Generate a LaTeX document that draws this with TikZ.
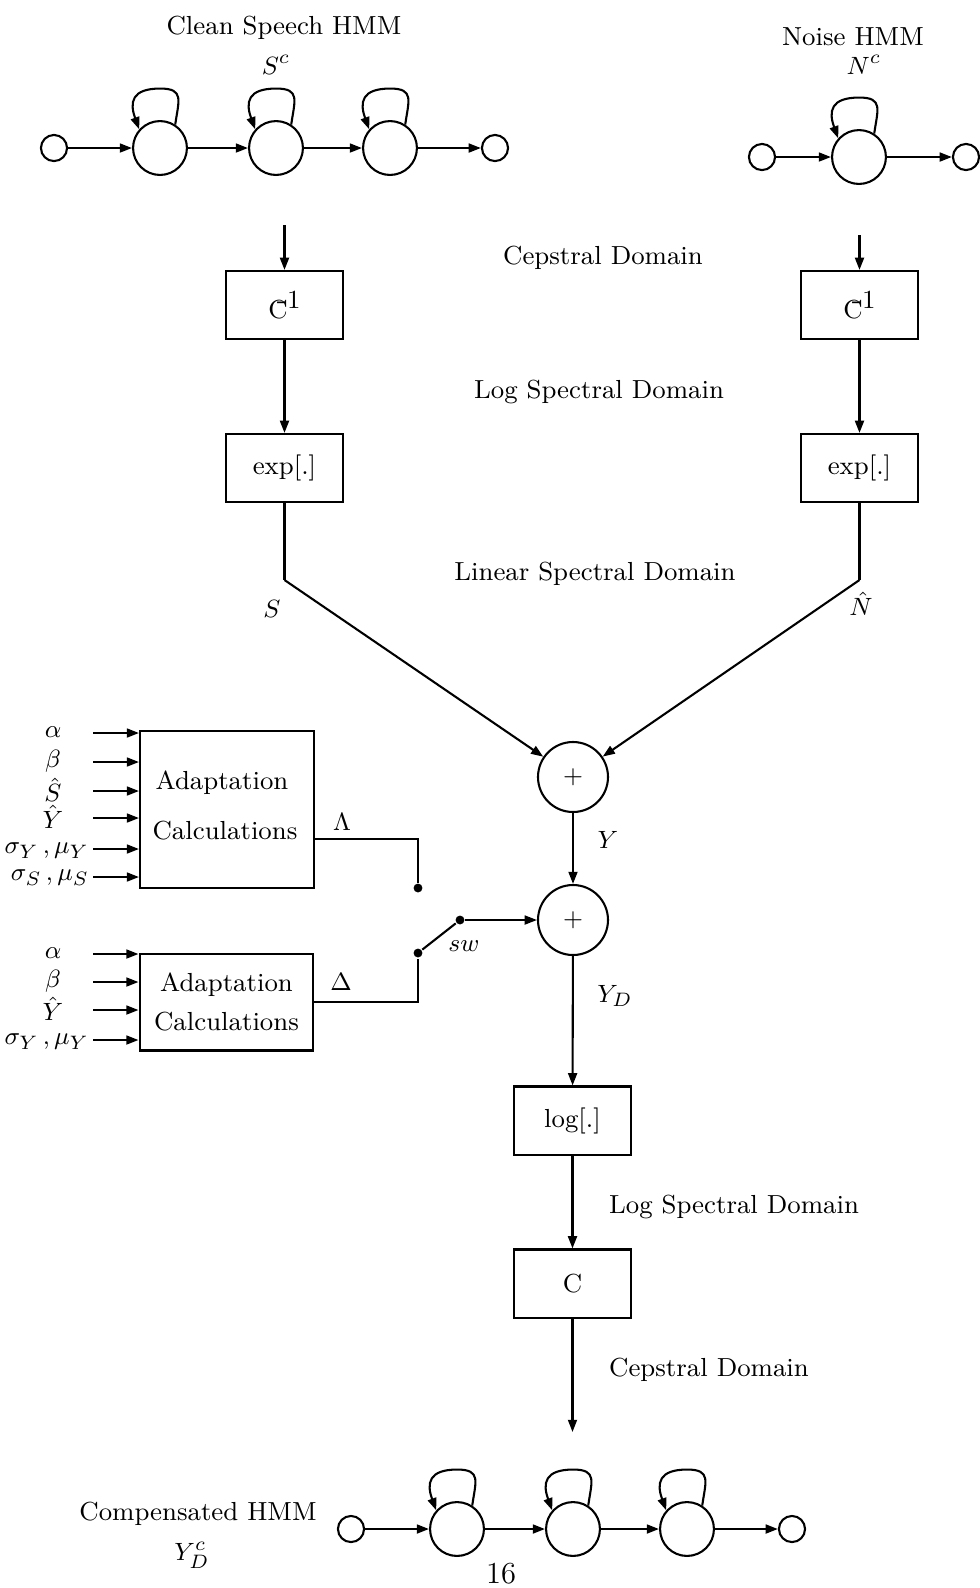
\documentclass[tikz,border=0pt]{standalone}
\usetikzlibrary{arrows.meta}
\newcommand\stateloop[1]{\draw[arr] (#1.57) to[out=82,in=0,looseness=1.6] ++(-15,36) to[out=180,in=110,looseness=1.6] (#1.138);}
\begin{document}
\begin{tikzpicture}[x=0.36pt,y=0.36pt,
  line width=0.75pt,
  every node/.style={font=\fontsize{9.4}{11}\selectfont},
  arr/.style={-{Triangle[length=4.4pt,width=3.2pt]}},
  bigstate/.style={circle,draw,minimum size=19.4pt,inner sep=0pt},
  smallstate/.style={circle,draw,minimum size=9.4pt,inner sep=0pt},
  sumnode/.style={circle,draw,minimum size=25.2pt,inner sep=0pt},
  blockbox/.style={draw,minimum width=42.1pt,minimum height=24.5pt,inner sep=0pt},
  adapt/.style={draw,minimum width=62.6pt,align=center,inner sep=0pt},
  dot/.style={circle,fill,minimum size=3.2pt,inner sep=0pt},
  lbl/.style={inner sep=0pt}
]
\useasboundingbox (0,0) rectangle (980,-1588);

% ---------- Clean speech HMM ----------
\node[lbl] (tcs) at (284,-28) {Clean Speech HMM};
\node[lbl] (tsc) at (276,-65) {$S^c$};
\node[smallstate] (a0) at (54,-148) {};
\node[bigstate] (a1) at (160,-148) {};
\node[bigstate] (a2) at (276,-148) {};
\node[bigstate] (a3) at (390,-148) {};
\node[smallstate] (a4) at (495,-148) {};
\draw[arr] (a0) -- (a1);
\draw[arr] (a1) -- (a2);
\draw[arr] (a2) -- (a3);
\draw[arr] (a3) -- (a4);
\stateloop{a1}\stateloop{a2}\stateloop{a3}

% ---------- Noise HMM ----------
\node[lbl] (tnh) at (853,-37) {Noise HMM};
\node[lbl] (tnc) at (864,-65) {$N^c$};
\node[smallstate] (n0) at (762,-157) {};
\node[bigstate] (n1) at (859,-157) {};
\node[smallstate] (n2) at (966,-157) {};
\draw[arr] (n0) -- (n1);
\draw[arr] (n1) -- (n2);
\stateloop{n1}

% ---------- domain labels ----------
\node[lbl] (dc1) at (603,-258) {Cepstral Domain};
\node[lbl] (dl1) at (599,-392) {Log Spectral Domain};
\node[lbl] (dls) at (595,-574) {Linear Spectral Domain};
\node[lbl] (dl2) at (734,-1207) {Log Spectral Domain};
\node[lbl] (dc2) at (709,-1370) {Cepstral Domain};

% ---------- transform blocks ----------
\newcommand\cinvtext{C\kern-0.42em\raisebox{0.95ex}{-\kern0.05em1}}
\node[blockbox] (ci1) at (284.5,-305) {\cinvtext};
\node[blockbox] (ex1) at (284.5,-468) {exp[.]};
\node[blockbox] (ci2) at (859.5,-305) {\cinvtext};
\node[blockbox] (ex2) at (859.5,-468) {exp[.]};
\coordinate (tl) at (284.5,-225);
\coordinate (tr) at (859.5,-235);
\draw[arr] (tl) -- (ci1);
\draw[arr] (tr) -- (ci2);
\draw[arr] (ci1) -- (ex1);
\draw[arr] (ci2) -- (ex2);

% ---------- summation ----------
\node[sumnode] (p1) at (573,-777) {$+$};
\node[sumnode] (p2) at (573,-920) {$+$};
\coordinate (cS) at (284.5,-580);
\coordinate (cN) at (859.5,-580);
\draw (ex1) -- (cS);
\draw[arr] (cS) -- (p1);
\draw (ex2) -- (cN);
\draw[arr] (cN) -- (p1);
\node[lbl] (lS) at (272,-609) {$S$};
\node[lbl] (lN) at (861,-604) {$\hat N$};
\draw[arr] (p1) -- (p2);
\node[lbl] (lY) at (608,-840) {$Y$};
\node[lbl] (lYD) at (615,-996) {$Y_D$};

% ---------- output chain ----------
\node[blockbox] (lg) at (572.5,-1120.5) {log[.]};
\node[blockbox] (cc) at (572.5,-1283.5) {C};
\coordinate (outc) at (572.5,-1432);
\draw[arr] (p2) -- (lg);
\draw[arr] (lg) -- (cc);
\draw[arr] (cc) -- (outc);

% ---------- compensated HMM ----------
\node[lbl] (tco) at (198,-1514) {Compensated HMM};
\node[lbl] (tyd) at (192,-1555) {$Y_D^c$};
\node[smallstate] (b0) at (351,-1529) {};
\node[bigstate] (b1) at (457,-1529) {};
\node[bigstate] (b2) at (573,-1529) {};
\node[bigstate] (b3) at (687,-1529) {};
\node[smallstate] (b4) at (792,-1529) {};
\draw[arr] (b0) -- (b1);
\draw[arr] (b1) -- (b2);
\draw[arr] (b2) -- (b3);
\draw[arr] (b3) -- (b4);
\stateloop{b1}\stateloop{b2}\stateloop{b3}
\node[lbl,font=\fontsize{11}{13}\selectfont] (pg) at (501,-1574) {16};

% ---------- adaptation block 1 ----------
\node[adapt,minimum height=56.5pt] (ad1) at (227,-809.5) {};
\node[lbl] (ad1a) at (222,-783) {Adaptation};
\node[lbl] (ad1b) at (225,-831) {Calculations};
\foreach \yy/\tt/\nm in {733/{$\alpha$}/1,762/{$\beta$}/2,791/{$\hat S$}/3,818/{$\hat Y$}/4}{
  \coordinate (ia\nm) at (93,-\yy);
  \node[lbl] (la\nm) at (53,-\yy+1) {\tt};
  \draw[arr] (ia\nm) -- (ia\nm -| ad1.west);
}
\coordinate (ia5) at (93,-849);
\node[lbl,anchor=east] (la5) at (90,-851) {$\sigma_Y\,,\mu_Y$};
\draw[arr] (ia5) -- (ia5 -| ad1.west);
\coordinate (ia6) at (93,-877);
\node[lbl,anchor=east] (la6) at (90,-878) {$\sigma_S\,,\mu_S$};
\draw[arr] (ia6) -- (ia6 -| ad1.west);

% ---------- adaptation block 2 ----------
\node[adapt,minimum height=34.9pt,font=\fontsize{9.4}{14}\selectfont] (ad2) at (226.5,-1002) {Adaptation\\Calculations};
\foreach \yy/\tt/\nm in {954/{$\alpha$}/1,982/{$\beta$}/2,1010/{$\hat Y$}/3}{
  \coordinate (ib\nm) at (93,-\yy);
  \node[lbl] (lb\nm) at (53,-\yy+1) {\tt};
  \draw[arr] (ib\nm) -- (ib\nm -| ad2.west);
}
\coordinate (ib4) at (93,-1040);
\node[lbl,anchor=east] (lb4) at (90,-1042) {$\sigma_Y\,,\mu_Y$};
\draw[arr] (ib4) -- (ib4 -| ad2.west);

% ---------- switch ----------
\node[dot] (d1) at (418,-888) {};
\node[dot] (d2) at (418,-953) {};
\node[dot] (d3) at (460,-920) {};
\coordinate (o1) at (ad1.east |- 0,-839);
\coordinate (o2) at (ad2.east |- 0,-1002);
\draw (o1) -| (d1);
\draw (o2) -| (d2);
\draw (d2) -- (d3);
\draw[arr] (d3) -- (p2);
\node[lbl] (lL) at (342,-822) {$\Lambda$};
\node[lbl] (lD) at (341,-982) {$\Delta$};
\node[lbl] (lsw) at (464,-946) {$sw$};
\end{tikzpicture}
\end{document}
